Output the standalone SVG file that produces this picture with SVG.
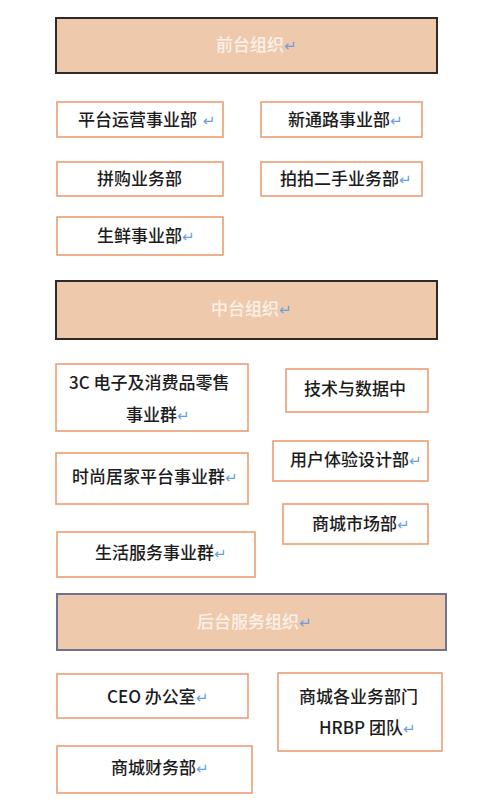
<svg xmlns="http://www.w3.org/2000/svg" width="500" height="811" viewBox="0 0 500 811">
<style>
.hdr{fill:#efc9ab;stroke:#2e2a28;stroke-width:2}
.hdr3{fill:#efc9ab;stroke:#6e7396;stroke-width:2}
.box{fill:#ffffff;stroke:#ec9f74;stroke-width:1.6}
.t{font-family:"Noto Sans CJK SC","Noto Sans",sans-serif;font-size:17px;font-weight:500;fill:#1c1c1c}
.ht{font-family:"Noto Sans CJK SC","Noto Sans",sans-serif;font-size:17px;font-weight:500;fill:#fbf1e8}
.r{font-family:"DejaVu Sans",sans-serif;font-size:15px;font-weight:400;fill:#6aa0dc}
</style>
<rect width="500" height="811" fill="#ffffff"/>
<g id="front-header">
<rect class="hdr" x="56" y="18" width="381" height="55"/>
<text class="ht" x="216" y="51">前台组织<tspan class="r">↵</tspan></text>
</g>
<g id="n-pingtai">
<rect class="box" x="57" y="102" width="166" height="35"/>
<text class="t" x="78" y="126">平台运营事业部 <tspan class="r" dx="2">↵</tspan></text>
</g>
<g id="n-xintonglu">
<rect class="box" x="261" y="102" width="161" height="35"/>
<text class="t" x="288" y="126">新通路事业部<tspan class="r">↵</tspan></text>
</g>
<g id="n-pingou">
<rect class="box" x="57" y="162" width="166" height="34"/>
<text class="t" x="97" y="185">拼购业务部</text>
</g>
<g id="n-paipai">
<rect class="box" x="261" y="162" width="161" height="34"/>
<text class="t" x="280" y="185">拍拍二手业务部<tspan class="r">↵</tspan></text>
</g>
<g id="n-shengxian">
<rect class="box" x="57" y="217" width="166" height="38"/>
<text class="t" x="97" y="242">生鲜事业部<tspan class="r">↵</tspan></text>
</g>
<g id="middle-header">
<rect class="hdr" x="56" y="281" width="381" height="58"/>
<text class="ht" x="211" y="315">中台组织<tspan class="r">↵</tspan></text>
</g>
<g id="n-3c">
<rect class="box" x="56" y="364" width="192" height="67"/>
<text class="t" x="69" y="389">3C 电子及消费品零售</text>
<text class="t" x="126" y="421">事业群<tspan class="r">↵</tspan></text>
</g>
<g id="n-jishu">
<rect class="box" x="286" y="369" width="142" height="43"/>
<text class="t" x="304" y="395">技术与数据中</text>
</g>
<g id="n-shishang">
<rect class="box" x="56" y="453" width="192" height="51"/>
<text class="t" x="72" y="483">时尚居家平台事业群<tspan class="r">↵</tspan></text>
</g>
<g id="n-yonghu">
<rect class="box" x="273" y="441" width="155" height="40"/>
<text class="t" x="290" y="466">用户体验设计部<tspan class="r">↵</tspan></text>
</g>
<g id="n-shichang">
<rect class="box" x="283" y="504" width="145" height="40"/>
<text class="t" x="312" y="530">商城市场部<tspan class="r">↵</tspan></text>
</g>
<g id="n-shenghuo">
<rect class="box" x="57" y="532" width="198" height="45"/>
<text class="t" x="95" y="559">生活服务事业群<tspan class="r">↵</tspan></text>
</g>
<g id="back-header">
<rect class="hdr3" x="57" y="594" width="389" height="56"/>
<text class="ht" x="197" y="628">后台服务组织<tspan class="r">↵</tspan></text>
</g>
<g id="n-ceo">
<rect class="box" x="57" y="674" width="191" height="44"/>
<text class="t" x="107" y="703">CEO 办公室<tspan class="r">↵</tspan></text>
</g>
<g id="n-hrbp">
<rect class="box" x="278" y="673" width="164" height="78"/>
<text class="t" x="299" y="703">商城各业务部门</text>
<text class="t" x="319" y="734">HRBP 团队<tspan class="r">↵</tspan></text>
</g>
<g id="n-caiwu">
<rect class="box" x="57" y="746" width="195" height="47"/>
<text class="t" x="111" y="774">商城财务部<tspan class="r">↵</tspan></text>
</g>
<g id="connectors"></g>
</svg>
